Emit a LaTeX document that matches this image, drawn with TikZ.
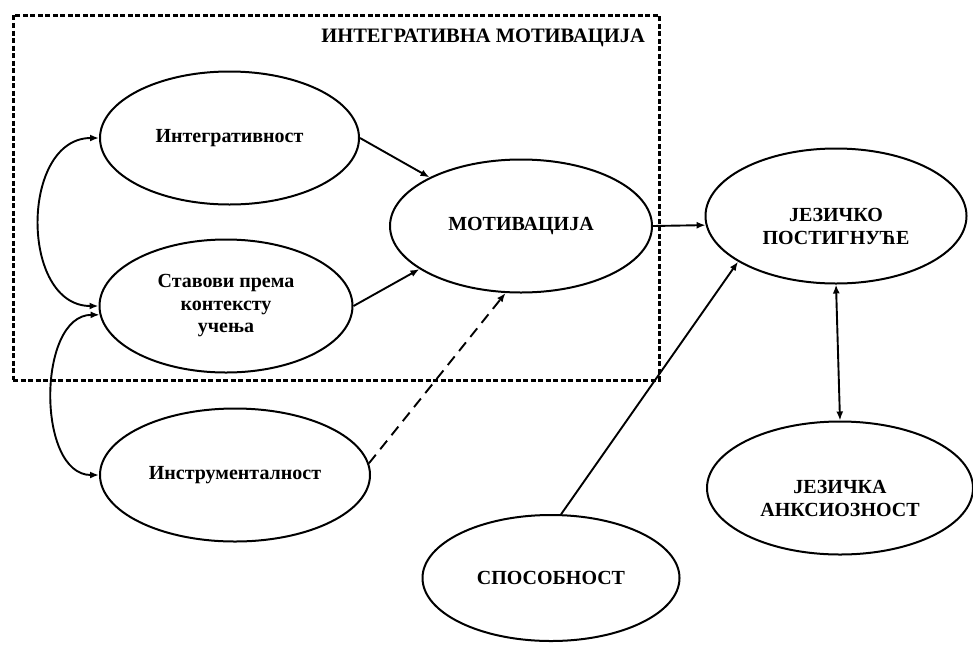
\documentclass[tikz,border=0pt]{standalone}
\usepackage{fontspec}
\setmainfont{Liberation Serif}
\usetikzlibrary{arrows.meta,shapes.geometric}
\begin{document}
\begin{tikzpicture}[x=1pt,y=-1pt,
  ell/.style={draw, ellipse, line width=2pt, inner sep=0pt, align=center,
    font=\fontsize{20}{22.5}\selectfont\bfseries},
  conn/.style={line width=1.9pt, -{Latex[length=9pt,width=7pt]}},
  dconn/.style={line width=1.9pt, {Latex[length=9pt,width=7pt]}-{Latex[length=9pt,width=7pt]}},
  frame/.style={draw, line width=3pt, dash pattern=on 5pt off 2.5pt, inner sep=0pt}]
\useasboundingbox (0,0) rectangle (973,648);
\fill[white] (0,0) rectangle (973,648);
% frame
\node[frame, minimum width=646pt, minimum height=365pt] (box) at (336,197.5) {};
\node[anchor=east, inner sep=0pt, font=\fontsize{20.5}{22.5}\selectfont\bfseries] (title) at (645,38) {ИНТЕГРАТИВНА МОТИВАЦИЈА};
% ellipses
\node[ell, minimum width=259pt, minimum height=133pt] (int) at (229.5,138) {Интегративност};
\node[ell, minimum width=253pt, minimum height=133pt] (stav) at (226,306) {Ставови према\\контексту\\учења};
\node[ell, minimum width=270pt, minimum height=133pt] (inst) at (235,475) {Инструменталност};
\node[ell, minimum width=262pt, minimum height=133pt] (mot) at (521,226) {МОТИВАЦИЈА};
\node[ell, minimum width=261pt, minimum height=135pt] (jp) at (836,216) {\mbox{}\\[12pt]ЈЕЗИЧКО\\ПОСТИГНУЋЕ};
\node[ell, minimum width=266pt, minimum height=133pt] (ja) at (840,488) {\mbox{}\\[12pt]ЈЕЗИЧКА\\АНКСИОЗНОСТ};
\node[ell, minimum width=257pt, minimum height=126pt] (sp) at (551,578) {СПОСОБНОСТ};
% connectors
\draw[conn] (int.east) -- (mot.152);
\draw[conn] (stav.east) -- (mot.203);
\draw[conn, dash pattern=on 11pt off 7pt] (inst.5) -- (mot.257);
\draw[conn] (mot.east) -- (jp.184.4);
\draw[conn] (sp.81) -- (jp.205);
\draw[dconn] (jp.south) -- (ja.north);
\draw[dconn] (int.west) to[out=180, in=180, looseness=1.2] (stav.west);
\draw[dconn] (stav.184) to[out=180, in=180, looseness=1.0] (inst.west);
\end{tikzpicture}
\end{document}
